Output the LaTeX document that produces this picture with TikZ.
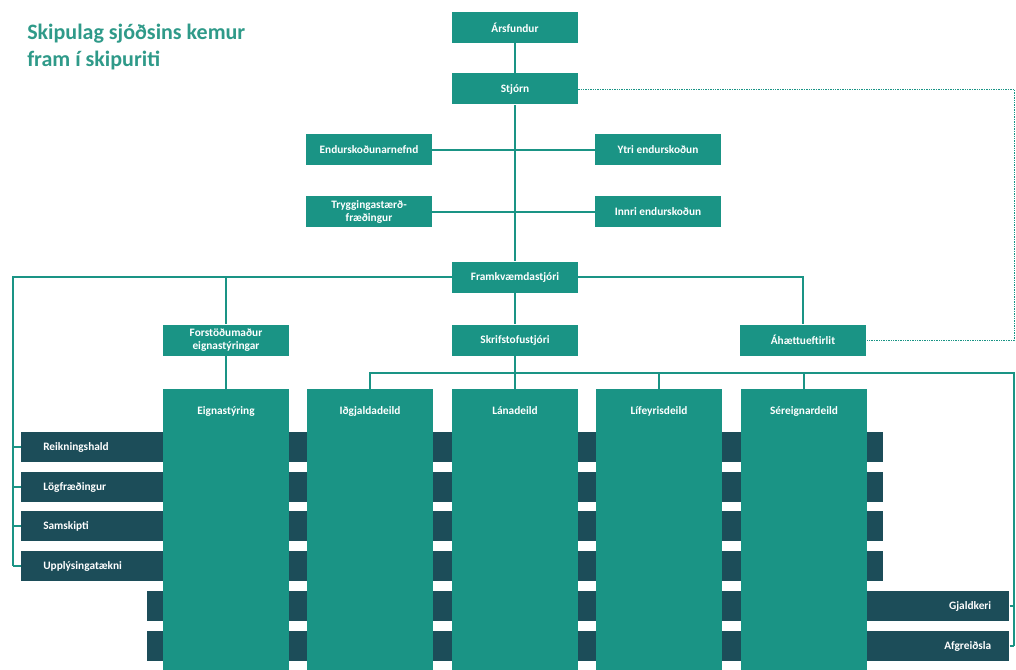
\documentclass[tikz,border=0pt]{standalone}
\usepackage{fontspec}
\setmainfont{Carlito}
\usepackage{tikz}
\usetikzlibrary{positioning}
\definecolor{orgteal}{HTML}{1A9485}
\definecolor{rowdark}{HTML}{1C4D59}
\definecolor{titleteal}{HTML}{2F9A89}

\tikzset{
    boxfont/.style={font=\bfseries\fontsize{8.5}{9.5}\selectfont},
    orgbox/.style={boxfont, fill=orgteal, text=white, minimum width=94.5pt,
        minimum height=23.25pt, inner sep=1pt, align=center},
    colbox/.style={fill=orgteal, anchor=north, minimum width=94.5pt,
        minimum height=210.75pt, inner sep=0pt},
    colhead/.style={boxfont, text=white, anchor=center, yshift=-16.5pt},
    rowbar/.style={boxfont, fill=rowdark, text=white, anchor=west,
        minimum height=22.5pt, inner xsep=16.5pt, text width=613.5pt, align=left},
    rowbarR/.style={rowbar, inner xsep=13.5pt, text width=619.5pt, align=right},
    orgline/.style={orgteal, line width=0.8pt},
    riskline/.style={orgteal, line width=0.6pt, dash pattern=on 1pt off 0.8pt},
}

\begin{document}
\begin{tikzpicture}[x=0.75pt,y=-0.75pt]
    \useasboundingbox (0,0) rectangle (1016,670);

    \node[titleteal, anchor=north west, inner sep=0pt, align=left,
        font=\bfseries\fontsize{16.5}{20}\selectfont] (title) at (27,24)
        {Skipulag sjóðsins kemur\\fram í skipuriti};

    % staff rows behind the departments
    \node[rowbar] (reikn) at (21,447) {Reikningshald};
    \node[rowbar] (logfr) at (21,487) {Lögfræðingur};
    \node[rowbar] (samsk) at (21,526) {Samskipti};
    \node[rowbar] (upplt) at (21,566) {Upplýsingatækni};
    \node[rowbarR] (gjald) at (147,606) {Gjaldkeri};
    \node[rowbarR] (afgr) at (147,646) {Afgreiðsla};

    % departments
    \node[colbox, label={[colhead]north:Eignastýring}] (eign) at (226,389) {};
    \node[colbox, label={[colhead]north:Iðgjaldadeild}] (idgj) at (370,389) {};
    \node[colbox, label={[colhead]north:Lánadeild}] (lana) at (515,389) {};
    \node[colbox, label={[colhead]north:Lífeyrisdeild}] (lifey) at (659,389) {};
    \node[colbox, label={[colhead]north:Séreignardeild}] (sereign) at (804,389) {};

    % management boxes
    \node[orgbox] (ars) at (515,27.5) {Ársfundur};
    \node[orgbox] (stjorn) at (515,89) {Stjórn};
    \node[orgbox] (endnefnd) at (369,150) {Endurskoðunarnefnd};
    \node[orgbox] (ytri) at (658,150) {Ytri endurskoðun};
    \node[orgbox] (tryggst) at (369,212) {Tryggingastærð-\\fræðingur};
    \node[orgbox] (innri) at (658,212) {Innri endurskoðun};
    \node[orgbox] (framk) at (515,277) {Framkvæmdastjóri};
    \node[orgbox] (forst) at (226,340) {Forstöðumaður\\eignastýringar};
    \node[orgbox] (skrif) at (515,340) {Skrifstofustjóri};
    \node[orgbox] (ahaetta) at (803,340) {Áhættueftirlit};

    \coordinate (bracketL) at (13,566);
    \coordinate (busTop) at (1014,373);
    \coordinate (bracketR) at (1014,646);
    \coordinate (rimTop) at (1014,89);

    \draw[orgline] (ars) -- (stjorn);
    \draw[orgline] (stjorn) -- (framk);
    \draw[orgline] (framk) -- (skrif);
    \draw[orgline] (endnefnd) -- (ytri);
    \draw[orgline] (tryggst) -- (innri);

    \draw[orgline] (framk.west) -| (bracketL);
    \draw[orgline] (forst.north) -- (forst.north |- framk.west);
    \draw[orgline] (framk.east) -| (ahaetta.north);
    \draw[orgline] (forst.south) -- (eign.north);
    \foreach \r in {reikn,logfr,samsk,upplt}
        \draw[orgline] (bracketL |- \r.west) -- (\r.west);

    \draw[orgline] (skrif.south) -- (skrif.south |- busTop);
    \draw[orgline] (idgj.north) |- (busTop) -- (bracketR);
    \foreach \c in {lana,lifey,sereign}
        \draw[orgline] (\c.north) -- (\c.north |- busTop);
    \foreach \r in {gjald,afgr}
        \draw[orgline] (\r.east) -- (bracketR |- \r.east);

    \draw[riskline] (stjorn.east) -- (rimTop) |- (ahaetta.east);
\end{tikzpicture}
\end{document}
